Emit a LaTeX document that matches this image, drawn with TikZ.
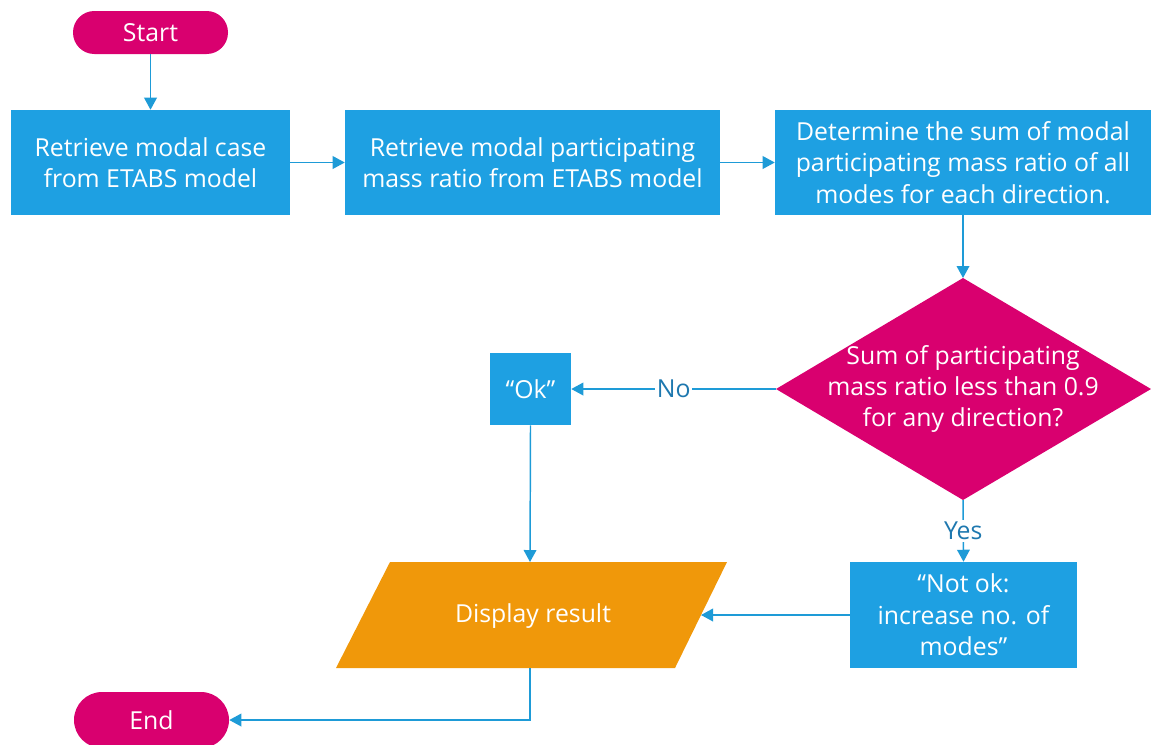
\documentclass[tikz,border=0pt]{standalone}
\usepackage{fontspec}
\setmainfont{Open Sans}
\usetikzlibrary{arrows.meta}
\definecolor{boxblue}{RGB}{30,160,226}
\definecolor{lineblue}{RGB}{30,155,215}
\definecolor{termmag}{RGB}{217,0,111}
\definecolor{disporange}{RGB}{240,152,10}
\definecolor{labelblue}{RGB}{30,120,175}
\begin{document}
\begin{tikzpicture}[x=0.75pt,y=-0.75pt,
  txt/.style={font=\fontsize{18.6}{23.5}\selectfont, text=white, align=center},
  proc/.style={txt, fill=boxblue, inner sep=0pt},
  term/.style={txt, fill=termmag, inner sep=0pt},
  conn/.style={draw=lineblue, line width=1.1pt, -{Triangle[length=9pt,width=9.5pt]}},
  lbl/.style={font=\fontsize{18.6}{20}\selectfont, text=labelblue, fill=white, inner sep=1.5pt}]
\useasboundingbox (0,0) rectangle (1151,744);

\node[term, minimum width=116.25pt, minimum height=32.25pt, rounded corners=16pt] (start) at (150.5,32.5) {Start};
\node[proc, minimum width=209.25pt, minimum height=78.75pt] (b1) at (150.5,162.5) {Retrieve modal case\\from ETABS model};
\node[proc, minimum width=281.25pt, minimum height=78.75pt] (b2) at (532.5,162.5) {Retrieve modal participating\\mass ratio from ETABS model};
\node[proc, minimum width=282pt, minimum height=78.75pt] (b3) at (963,162.5) {Determine the sum of modal\\participating mass ratio of all\\modes for each direction.};
\fill[termmag] (963,278) -- (1151,389) -- (963,500) -- (776,389) -- cycle;
\node[txt] (dia) at (963,389) {Sum of participating\\mass ratio less than 0.9\\for any direction?};
\coordinate (diaN) at (963,278);
\coordinate (diaS) at (963,500);
\coordinate (diaW) at (776,389);
\node[proc, minimum width=60.75pt, minimum height=54pt] (ok) at (530.5,389) {“Ok”};
\node[proc, minimum width=170.25pt, minimum height=79.5pt] (nok) at (963.5,615) {“Not ok:\\increase no. of\\modes”};
\fill[disporange] (390,562) -- (727,562) -- (675,668) -- (336,668) -- cycle;
\node[txt] (disp) at (533,616) {Display result};
\coordinate (dispT) at (530,562);
\coordinate (dispR) at (701,615);
\coordinate (dispB) at (530,668);
\node[term, minimum width=116.25pt, minimum height=42pt, rounded corners=21pt] (end) at (151.5,720) {End};

\draw[conn] (start.south) -- (b1.north);
\draw[conn] (b1.east) -- (b2.west);
\draw[conn] (b2.east) -- (b3.west);
\draw[conn] (b3.south) -- (diaN);
\draw[conn] (diaW) -- node[lbl] {No} (ok.east);
\draw[conn] (ok.south) -- (dispT);
\draw[conn] (diaS) -- node[lbl] {Yes} (nok.north);
\draw[conn] (nok.west) -- (dispR);
\draw[conn] (dispB) |- (end.east);
\end{tikzpicture}
\end{document}
